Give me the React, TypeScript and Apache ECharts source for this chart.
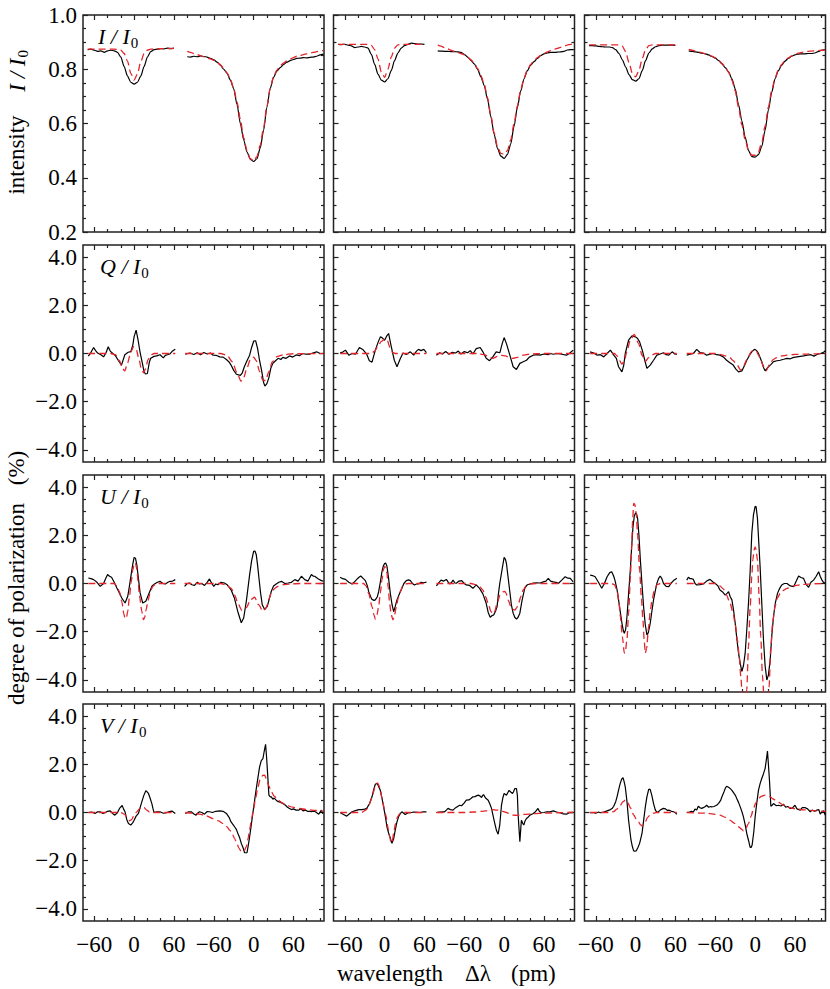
import React, { useEffect, useRef } from "react";
import * as echarts from "echarts";

// ---------- wavelength sampling (pm) for intensity profiles ----------
const WL_LEFT = [-70, -65, -60, -55, -50, -45, -40, -35, -30, -25, -20, -15, -10, -5, 0, 5, 10, 15, 20, 25, 30, 35, 40, 45, 50, 55, 60];
const WL_RIGHT = [-100, -95, -90, -85, -80, -75, -70, -65, -60, -55, -50, -45, -40, -35, -30, -25, -20, -15, -10, -5, 0, 5, 10, 15, 20, 25, 30, 35, 40, 45, 50, 55, 60, 65, 70, 75, 80, 85, 90, 95, 100, 105];

// ---------- I / I0 ----------
const I_C0_L_OBS = [0.872, 0.874, 0.870, 0.866, 0.868, 0.862, 0.868, 0.870, 0.868, 0.862, 0.845, 0.810, 0.775, 0.752, 0.745, 0.752, 0.775, 0.810, 0.845, 0.865, 0.872, 0.874, 0.876, 0.875, 0.878, 0.876, 0.878];
const I_C0_L_FIT = [0.874, 0.874, 0.874, 0.874, 0.874, 0.874, 0.874, 0.874, 0.874, 0.873, 0.870, 0.858, 0.830, 0.785, 0.760, 0.782, 0.828, 0.858, 0.870, 0.874, 0.875, 0.875, 0.876, 0.876, 0.876, 0.877, 0.877];
const I_C0_R_OBS = [0.846, 0.845, 0.848, 0.846, 0.849, 0.847, 0.845, 0.840, 0.835, 0.826, 0.815, 0.800, 0.785, 0.760, 0.728, 0.670, 0.600, 0.540, 0.495, 0.468, 0.460, 0.470, 0.510, 0.575, 0.660, 0.730, 0.770, 0.793, 0.806, 0.817, 0.826, 0.832, 0.836, 0.840, 0.841, 0.843, 0.842, 0.844, 0.845, 0.848, 0.853, 0.856];
const I_C0_R_FIT = [0.866, 0.862, 0.858, 0.854, 0.850, 0.846, 0.842, 0.838, 0.833, 0.826, 0.816, 0.803, 0.787, 0.763, 0.730, 0.680, 0.615, 0.548, 0.500, 0.470, 0.462, 0.478, 0.520, 0.585, 0.665, 0.730, 0.772, 0.797, 0.812, 0.823, 0.831, 0.838, 0.843, 0.848, 0.851, 0.854, 0.857, 0.860, 0.862, 0.865, 0.868, 0.870];

const I_C1_L_OBS = [0.892, 0.891, 0.892, 0.889, 0.886, 0.880, 0.882, 0.884, 0.882, 0.878, 0.855, 0.818, 0.782, 0.760, 0.753, 0.765, 0.795, 0.832, 0.860, 0.878, 0.887, 0.892, 0.896, 0.895, 0.893, 0.893, 0.892];
const I_C1_L_FIT = [0.892, 0.892, 0.892, 0.892, 0.892, 0.892, 0.892, 0.892, 0.892, 0.891, 0.888, 0.872, 0.838, 0.790, 0.770, 0.800, 0.845, 0.878, 0.890, 0.892, 0.892, 0.892, 0.892, 0.892, 0.892, 0.892, 0.892];
const I_C1_R_OBS = [0.868, 0.867, 0.866, 0.866, 0.865, 0.865, 0.864, 0.862, 0.855, 0.845, 0.833, 0.820, 0.800, 0.772, 0.740, 0.690, 0.625, 0.560, 0.508, 0.480, 0.471, 0.486, 0.525, 0.590, 0.660, 0.720, 0.765, 0.795, 0.815, 0.828, 0.840, 0.850, 0.857, 0.860, 0.862, 0.862, 0.863, 0.864, 0.866, 0.871, 0.872, 0.872];
const I_C1_R_FIT = [0.889, 0.885, 0.880, 0.875, 0.870, 0.866, 0.862, 0.858, 0.853, 0.845, 0.835, 0.822, 0.803, 0.777, 0.745, 0.695, 0.630, 0.565, 0.515, 0.490, 0.487, 0.500, 0.540, 0.600, 0.665, 0.725, 0.768, 0.797, 0.818, 0.832, 0.843, 0.851, 0.858, 0.864, 0.869, 0.873, 0.877, 0.881, 0.885, 0.889, 0.892, 0.895];

const I_C2_L_OBS = [0.887, 0.887, 0.886, 0.884, 0.883, 0.882, 0.882, 0.880, 0.872, 0.858, 0.835, 0.808, 0.780, 0.762, 0.756, 0.765, 0.795, 0.832, 0.860, 0.875, 0.883, 0.887, 0.889, 0.889, 0.889, 0.889, 0.888];
const I_C2_L_FIT = [0.890, 0.890, 0.890, 0.890, 0.890, 0.890, 0.890, 0.890, 0.890, 0.890, 0.885, 0.865, 0.825, 0.785, 0.772, 0.795, 0.840, 0.872, 0.887, 0.890, 0.890, 0.890, 0.890, 0.890, 0.890, 0.890, 0.890];
const I_C2_R_OBS = [0.868, 0.866, 0.864, 0.862, 0.859, 0.857, 0.853, 0.847, 0.841, 0.832, 0.820, 0.806, 0.790, 0.765, 0.728, 0.670, 0.610, 0.550, 0.500, 0.478, 0.476, 0.485, 0.515, 0.575, 0.650, 0.715, 0.765, 0.795, 0.815, 0.830, 0.840, 0.848, 0.853, 0.856, 0.857, 0.857, 0.858, 0.858, 0.860, 0.865, 0.870, 0.873];
const I_C2_R_FIT = [0.873, 0.870, 0.867, 0.864, 0.861, 0.857, 0.853, 0.848, 0.842, 0.833, 0.822, 0.808, 0.788, 0.760, 0.720, 0.660, 0.595, 0.540, 0.500, 0.483, 0.483, 0.495, 0.530, 0.590, 0.660, 0.722, 0.768, 0.798, 0.818, 0.832, 0.842, 0.849, 0.855, 0.859, 0.862, 0.864, 0.866, 0.867, 0.868, 0.869, 0.870, 0.871];

// ---------- Q / I0 (%), [Δλ pm, value] ----------
const Q_C0_L_OBS = [[-69, -0.11], [-65, 0.05], [-61, 0.25], [-58, 0.12], [-55, 0.02], [-50, -0.05], [-46, -0.14], [-42, 0.05], [-39, 0.28], [-36, 0.1], [-32, 0.0], [-28, -0.1], [-24, -0.28], [-19, -0.48], [-14, -0.05], [-9, 0.05], [-5, 0.08], [-2, 0.35], [0, 0.7], [3, 0.97], [6, 0.55], [9, 0.05], [12, -0.35], [15, -0.75], [17, -0.85], [20, -0.83], [23, -0.35], [25, -0.2], [30, -0.12], [34, -0.1], [39, -0.05], [44, -0.18], [47, -0.08], [50, -0.05], [54, -0.02], [57, 0.08], [59, 0.12], [62, 0.18]];
const Q_C0_L_FIT = [[-69, 0], [-35, 0], [-28, -0.05], [-22, -0.3], [-17, -0.65], [-14, -0.72], [-10, -0.4], [-5, 0.05], [-1, 0.28], [3, 0.2], [7, -0.2], [11, -0.65], [14, -0.8], [17, -0.65], [21, -0.25], [26, -0.05], [30, 0], [62, 0]];
const Q_C0_R_OBS = [[-103, -0.03], [-96, 0.02], [-90, -0.04], [-85, 0.03], [-80, -0.05], [-75, 0.04], [-70, -0.02], [-65, 0.02], [-61, -0.07], [-56, -0.08], [-51, -0.14], [-46, -0.15], [-41, -0.25], [-37, -0.35], [-34, -0.48], [-30, -0.7], [-26, -0.86], [-20, -0.91], [-17, -0.8], [-14, -0.55], [-10, -0.3], [-6, -0.07], [-3, 0.25], [0, 0.51], [3, 0.53], [6, 0.2], [9, -0.3], [12, -0.7], [15, -1.2], [17, -1.35], [20, -1.25], [23, -1.0], [26, -0.6], [29, -0.41], [33, -0.3], [37, -0.2], [41, -0.25], [44, -0.16], [49, -0.2], [54, -0.1], [59, -0.15], [64, -0.06], [69, -0.09], [74, 0.0], [79, -0.03], [84, -0.03], [89, 0.02], [95, 0.07], [100, 0.0], [104, 0.0]];
const Q_C0_R_FIT = [[-103, 0], [-50, 0], [-40, -0.08], [-32, -0.35], [-25, -0.8], [-19, -1.15], [-15, -1.0], [-10, -0.6], [-5, -0.25], [0, -0.15], [4, -0.3], [9, -0.75], [14, -1.12], [18, -1.12], [23, -0.75], [28, -0.35], [35, -0.13], [45, -0.05], [60, -0.01], [105, 0]];

const Q_C1_L_OBS = [[-67, 0.03], [-63, 0.06], [-59, 0.14], [-54, -0.07], [-49, 0.0], [-44, -0.03], [-38, 0.25], [-33, 0.17], [-27, -0.03], [-23, -0.3], [-19, -0.36], [-14, 0.14], [-10, 0.45], [-6.5, 0.69], [-4, 0.66], [0, 0.55], [3, 0.72], [6, 0.83], [9.6, 0.34], [14.6, -0.28], [18.6, -0.55], [23.7, -0.21], [27.7, 0.02], [32.7, -0.04], [38.8, 0.07], [43.8, -0.07], [48, 0.1], [51, 0.17], [55, 0.12], [59, 0.17], [63, 0.04]];
const Q_C1_L_FIT = [[-67, 0], [-20, 0], [-15, 0.1], [-10, 0.3], [-5, 0.5], [0, 0.6], [4, 0.55], [8, 0.25], [12, 0.05], [16, 0], [63, 0]];
const Q_C1_R_OBS = [[-102, -0.07], [-97, 0.03], [-93, -0.02], [-88, 0.08], [-83, -0.03], [-78, 0.05], [-73, 0.02], [-69, 0.1], [-65, -0.02], [-60, 0.08], [-55, 0.03], [-51, 0.12], [-47, -0.02], [-42, 0.2], [-36, 0.25], [-32, 0.07], [-27, -0.2], [-22, -0.3], [-17, -0.14], [-12, 0.07], [-6.5, 0.03], [-3, 0.4], [0, 0.66], [3.5, 0.41], [8.6, -0.07], [13.6, -0.55], [18.6, -0.66], [23.7, -0.41], [28, -0.35], [33.7, -0.28], [38, -0.15], [43.8, -0.07], [50, -0.05], [54, -0.07], [60, -0.02], [66, -0.05], [70, 0.0], [74, -0.03], [80, 0.0], [85, -0.02], [90, -0.05], [94, -0.07], [99, 0.02], [104, 0.14]];
const Q_C1_R_FIT = [[-102, 0], [-40, 0], [-30, -0.05], [-22, -0.15], [-17, -0.2], [-10, -0.12], [-4, -0.08], [2, -0.1], [8, -0.17], [13, -0.2], [20, -0.16], [28, -0.07], [40, -0.02], [60, 0], [105, 0]];

const Q_C2_L_OBS = [[-68.5, 0.07], [-63, 0.02], [-58, -0.07], [-53, -0.05], [-48, -0.14], [-43, 0.0], [-38, 0.14], [-33, -0.07], [-29, -0.2], [-25.7, -0.55], [-20.6, -0.76], [-18, -0.5], [-15.6, 0.0], [-10.6, 0.55], [-5.5, 0.73], [0, 0.69], [3, 0.62], [6, 0.48], [10, 0.14], [14, -0.3], [17, -0.62], [22, -0.48], [27, -0.28], [32, -0.07], [37, -0.02], [42, 0.03], [46, -0.05], [50, -0.07], [55, 0.07], [59, -0.02], [62, -0.04]];
const Q_C2_L_FIT = [[-68.5, 0], [-32, 0], [-28, -0.1], [-24, -0.3], [-20.6, -0.44], [-17, -0.3], [-13, 0.1], [-8, 0.55], [-2, 0.79], [4.5, 0.41], [9.6, -0.07], [14.6, -0.34], [19.6, -0.17], [25, -0.05], [30, 0], [62, 0]];
const Q_C2_R_OBS = [[-103, -0.07], [-98, -0.03], [-93, 0.0], [-88, 0.17], [-83, 0.04], [-78, 0.02], [-73, -0.07], [-68, -0.03], [-63, 0.0], [-58, -0.05], [-53, -0.07], [-48, -0.14], [-43, -0.28], [-38, -0.38], [-33, -0.48], [-29, -0.65], [-25, -0.76], [-20, -0.72], [-16, -0.5], [-12.6, -0.28], [-8, -0.05], [-5, 0.07], [-2, 0.15], [0, 0.17], [3, 0.1], [5, 0.0], [10, -0.34], [13, -0.6], [15, -0.72], [18, -0.62], [20, -0.55], [24, -0.45], [27.7, -0.34], [33, -0.3], [37.8, -0.28], [43, -0.24], [48, -0.2], [53, -0.22], [58, -0.16], [63, -0.14], [68, -0.12], [73, -0.1], [78.5, -0.07], [84, -0.05], [88.6, -0.11], [94, -0.03], [98.7, 0.0], [103, 0.05], [106, 0.11]];
const Q_C2_R_FIT = [[-103, 0], [-60, 0], [-53, -0.04], [-45, -0.1], [-38, -0.17], [-33, -0.3], [-28, -0.44], [-21.6, -0.69], [-17, -0.5], [-12.6, -0.25], [-5, 0.1], [-1, 0.15], [2, 0.1], [5, -0.07], [9, -0.3], [12.6, -0.55], [16.6, -0.72], [22.7, -0.41], [27, -0.25], [32.7, -0.17], [40, -0.1], [48, -0.07], [60, -0.04], [80, -0.02], [106, 0]];

// ---------- U / I0 (%) ----------
const U_C0_L_OBS = [[-69, 0.23], [-65, 0.2], [-61, 0.16], [-56, 0.05], [-51, -0.12], [-46, 0.0], [-43, 0.2], [-40, 0.37], [-37, 0.3], [-34, 0.26], [-30, 0.05], [-26, -0.19], [-22, -0.4], [-18.6, -0.6], [-13.6, -0.81], [-9.6, -0.53], [-7, -0.1], [-4.5, 0.37], [-2, 0.8], [0, 1.08], [2, 1.05], [4, 0.78], [6.5, 0.2], [9, -0.39], [13, -0.81], [17.6, -0.74], [22.7, -0.39], [27, -0.1], [30.7, -0.02], [35, 0.05], [39, 0.09], [43, 0.0], [47, -0.02], [51, 0.05], [54, 0.09], [58, 0.1], [62, 0.16]];
const U_C0_L_FIT = [[-69, 0], [-30, 0], [-26, -0.1], [-22, -0.35], [-18.6, -0.74], [-15.5, -1.25], [-13.6, -1.45], [-11.5, -1.4], [-9.6, -1.15], [-7, -0.55], [-4.5, 0.05], [-2, 0.55], [0, 0.82], [2, 0.85], [4, 0.6], [6, 0.1], [8, -0.5], [11.6, -1.15], [14, -1.5], [16, -1.4], [18, -1.1], [21, -0.7], [24, -0.39], [28, -0.12], [32, -0.03], [36, 0], [62, 0]];
const U_C0_R_OBS = [[-104, -0.12], [-100, 0.0], [-96.6, 0.02], [-93, -0.05], [-89, -0.08], [-85, 0.05], [-81.6, -0.02], [-78, 0.0], [-74, -0.08], [-70, 0.05], [-66.5, 0.19], [-63, 0.0], [-60, -0.12], [-57, -0.02], [-54, -0.05], [-49, 0.05], [-44, 0.02], [-40, -0.05], [-34, -0.26], [-29, -0.6], [-24, -1.15], [-18.6, -1.63], [-15, -1.43], [-11, -0.74], [-6, 0.37], [-3, 0.95], [0, 1.33], [2, 1.35], [4, 1.19], [6, 0.75], [8, 0.23], [10.5, -0.4], [13, -0.88], [16.6, -1.08], [20.6, -0.95], [23, -0.7], [26.7, -0.32], [30, -0.1], [34, -0.02], [38, 0.05], [42, 0.09], [47, 0.0], [52, 0.02], [57, 0.05], [62, 0.16], [67, 0.1], [72, 0.3], [77, 0.16], [82, 0.1], [87, 0.37], [90, 0.3], [92, 0.3], [97, 0.2], [102, 0.12], [105, 0.1]];
const U_C0_R_FIT = [[-104, 0], [-50, 0], [-42, -0.05], [-34, -0.19], [-28, -0.5], [-24, -0.81], [-17.6, -1.12], [-11, -1.0], [-4.5, -0.67], [1.5, -0.57], [7.5, -0.88], [14, -1.15], [19, -1.0], [23, -0.65], [26.7, -0.39], [32, -0.2], [36.7, -0.12], [45, -0.05], [55, -0.02], [70, 0], [105, 0]];

const U_C1_L_OBS = [[-67, 0.26], [-63, 0.2], [-59, 0.17], [-54, 0.05], [-49, -0.02], [-46, 0.05], [-42, 0.17], [-39, 0.25], [-36, 0.31], [-32, 0.2], [-29, 0.12], [-26, -0.1], [-24, -0.34], [-21, -0.55], [-19, -0.66], [-16, -0.7], [-14, -0.68], [-11, -0.55], [-9, -0.34], [-6.5, 0.05], [-4, 0.49], [-2, 0.72], [0, 0.83], [1.5, 0.85], [3.5, 0.72], [6, 0.2], [8.6, -0.41], [11, -0.85], [13.6, -1.17], [16, -0.95], [18.6, -0.68], [22, -0.45], [26, -0.2], [29, 0.0], [32.7, 0.12], [36, 0.15], [38.8, 0.12], [42, 0.0], [44.8, -0.06], [48, -0.02], [51, -0.02], [55, 0.05], [59, 0.03], [63, 0.06]];
const U_C1_L_FIT = [[-67, 0], [-32, 0], [-28, -0.1], [-24, -0.41], [-19, -0.96], [-16, -1.3], [-14, -1.48], [-11.5, -1.3], [-9, -0.96], [-6.5, -0.4], [-4, 0.14], [-2, 0.55], [0, 0.7], [1.5, 0.68], [3.5, 0.42], [5.5, -0.2], [7.5, -0.82], [10, -1.3], [12.6, -1.51], [15, -1.3], [17.6, -0.96], [20.5, -0.6], [23.7, -0.34], [27, -0.12], [31, -0.02], [36, 0], [63, 0]];
const U_C1_R_OBS = [[-102, -0.1], [-98, 0.05], [-95, 0.14], [-91, 0.1], [-87, 0.17], [-84, 0.05], [-82, -0.02], [-79, 0.05], [-77, 0.14], [-74, 0.02], [-72, 0.01], [-68, 0.1], [-64, 0.12], [-60, 0.0], [-57, -0.06], [-52, -0.08], [-47, -0.2], [-42, -0.06], [-37, -0.2], [-32, -0.43], [-27, -0.82], [-24, -1.2], [-21, -1.4], [-18, -1.33], [-15.6, -1.3], [-13, -1.15], [-10.6, -0.96], [-8.5, -0.4], [-6.5, 0.01], [-3, 0.6], [0, 1.08], [2, 1.0], [3.5, 0.83], [6, 0.25], [8.6, -0.34], [11, -0.9], [13.6, -1.23], [16, -1.4], [18.6, -1.48], [21, -1.4], [23.7, -1.23], [27, -0.7], [31, -0.2], [35, -0.05], [38.8, -0.02], [44, 0.02], [49, 0.03], [54, 0.02], [59, 0.07], [63, 0.1], [66.5, 0.21], [70, 0.1], [74, 0.07], [78, 0.05], [82, 0.01], [86, 0.12], [89, 0.2], [92, 0.28], [96, 0.22], [99.7, 0.21], [104, 0.07]];
const U_C1_R_FIT = [[-102, 0], [-50, 0], [-42, -0.05], [-36, -0.15], [-32, -0.27], [-28, -0.55], [-24, -0.82], [-20, -1.15], [-17.6, -1.26], [-14, -1.15], [-10.6, -0.82], [-6, -0.48], [-2, -0.35], [1, -0.33], [3, -0.4], [6, -0.68], [10, -0.95], [14, -1.08], [16, -1.1], [19, -1.0], [22, -0.8], [25, -0.55], [28.7, -0.27], [33, -0.1], [38.8, -0.02], [48, 0], [105, 0]];

const U_C2_L_OBS = [[-68.5, 0.35], [-65, 0.33], [-61, 0.28], [-56, 0.05], [-51, -0.2], [-47, 0.0], [-43, 0.28], [-39, 0.45], [-36, 0.49], [-33, 0.3], [-31, 0.12], [-28, -0.25], [-25.7, -0.68], [-23, -1.2], [-20.6, -1.65], [-18.5, -1.95], [-17, -2.07], [-15, -1.9], [-13, -1.37], [-10.5, -0.4], [-8, 0.56], [-6, 1.5], [-4, 2.35], [-2, 2.8], [0, 2.93], [1.5, 2.88], [3, 2.7], [5, 2.0], [7, 1.04], [9.5, 0.0], [12, -0.96], [14.5, -1.7], [17, -2.13], [19, -2.05], [22, -1.65], [24.5, -1.15], [27, -0.68], [30, -0.25], [32, 0.0], [34.5, 0.2], [37, 0.31], [39.5, 0.2], [42, 0.0], [46, -0.12], [50, -0.13], [53, 0.0], [57, 0.12], [60, 0.18], [62, 0.22]];
const U_C2_L_FIT = [[-68.5, 0], [-36, 0], [-32, -0.05], [-28, -0.27], [-25, -0.8], [-23, -1.37], [-20, -2.2], [-17, -2.89], [-15.5, -2.85], [-13, -2.3], [-10.5, -1.2], [-8, 0.2], [-6, 1.5], [-4.5, 2.6], [-3, 3.32], [-1.5, 3.3], [1, 2.9], [3, 2.0], [6, 0.56], [8.5, -0.5], [11, -1.51], [13, -2.4], [14.6, -2.89], [16.5, -2.7], [19.6, -1.79], [22, -1.15], [24.7, -0.68], [28, -0.3], [32, -0.06], [37, 0], [62, 0]];
const U_C2_R_OBS = [[-103, 0.14], [-100.5, 0.26], [-98, 0.2], [-95.5, 0.2], [-93, 0.17], [-90.5, 0.0], [-88, -0.06], [-83, -0.05], [-78, -0.02], [-73, 0.1], [-68, 0.17], [-63, 0.05], [-60, 0.0], [-56, -0.1], [-53, -0.27], [-49, -0.35], [-45, -0.48], [-42, -0.4], [-40, -0.34], [-37.5, -0.55], [-35, -0.68], [-32.5, -1.1], [-30, -1.65], [-27.5, -2.3], [-25, -2.89], [-22.5, -3.3], [-20, -3.65], [-17.5, -3.4], [-15, -2.89], [-12.5, -1.9], [-10, -0.82], [-7.5, 0.5], [-5, 2.08], [-2.5, 2.85], [0, 3.2], [1.5, 3.18], [3.5, 2.7], [5.5, 1.7], [7.5, 0.69], [10, -0.8], [12.6, -2.34], [15, -3.4], [17.6, -4.0], [20, -3.8], [22.7, -3.17], [25, -2.2], [27.7, -1.37], [30.5, -0.8], [33.7, -0.41], [37, -0.2], [40, -0.06], [44, 0.0], [48, 0.0], [53, -0.1], [58, -0.13], [62, 0.1], [65.5, 0.31], [69, 0.25], [73, 0.21], [77, -0.05], [80.6, -0.16], [84, 0.05], [88, 0.14], [92, 0.3], [95.7, 0.49], [98, 0.3], [100.7, 0.14], [103, 0.05], [105.7, 0.0]];
const U_C2_R_FIT = [[-103, 0], [-60, 0], [-53, -0.1], [-48, -0.22], [-43, -0.48], [-38, -0.8], [-33, -1.23], [-30, -1.7], [-26.7, -2.34], [-24, -3.0], [-21.6, -3.85], [-19, -4.8], [-17, -5.4], [-15, -5.3], [-12.6, -4.4], [-10, -2.6], [-7.5, -1.0], [-5, 0.3], [-3.5, 0.97], [-1.5, 1.4], [0, 1.52], [1.5, 1.4], [3.5, 0.97], [6, -0.5], [8.5, -2.2], [11, -3.8], [13.6, -4.88], [16, -5.4], [18.6, -5.2], [21, -4.3], [23.7, -2.6], [26.5, -1.6], [30, -0.96], [33.5, -0.6], [37.8, -0.41], [43, -0.28], [48, -0.2], [58, -0.1], [72, -0.04], [90, -0.01], [106, 0]];

// ---------- V / I0 (%) ----------
const V_C0_L_OBS = [[-69, 0.0], [-64, 0.02], [-59, -0.04], [-55, 0.03], [-51, 0.03], [-47, -0.04], [-44, -0.01], [-40, 0.05], [-36, 0.07], [-32, -0.05], [-29, -0.11], [-25, 0.0], [-22, 0.17], [-18, 0.29], [-16, 0.15], [-13.6, 0.02], [-11, -0.3], [-8.6, -0.46], [-5, -0.52], [-2, -0.42], [0, -0.32], [3, -0.15], [6.5, -0.04], [9, 0.2], [11.6, 0.44], [14.5, 0.7], [17.6, 0.9], [19.5, 0.86], [21.6, 0.79], [24, 0.6], [26.7, 0.37], [28.5, 0.15], [30, 0.0], [34, 0.03], [39, 0.03], [44, -0.03], [49, -0.01], [53, 0.04], [57, 0.06], [60, 0.0], [62, -0.04]];
const V_C0_L_FIT = [[-69, 0], [-20, 0], [-14, -0.08], [-10, -0.25], [-7, -0.34], [-4, -0.3], [0, -0.12], [4, 0.03], [8, 0.15], [11.6, 0.23], [15, 0.2], [19, 0.1], [23, 0.02], [28, 0], [62, 0]];
const V_C0_R_OBS = [[-103, -0.04], [-98, 0.03], [-94, 0.03], [-90, -0.06], [-86.6, -0.11], [-84, -0.02], [-81.6, 0.03], [-78, 0.0], [-74, -0.07], [-70, 0.04], [-66.5, 0.03], [-62, 0.0], [-57, 0.05], [-51, 0.07], [-46, 0.05], [-41, -0.04], [-37, -0.2], [-34, -0.39], [-31, -0.5], [-28.7, -0.59], [-26, -0.7], [-23.7, -0.87], [-21, -1.05], [-18.6, -1.28], [-16, -1.45], [-13.6, -1.67], [-10, -1.67], [-8, -1.35], [-6, -1.0], [-3.5, -0.5], [-1, 0.0], [1.5, 0.5], [4, 0.99], [6.5, 1.45], [9, 1.89], [11.5, 2.15], [14, 2.23], [16, 2.55], [18, 2.83], [19.5, 2.3], [20.6, 1.82], [23, 0.72], [25, 0.65], [26.7, 0.65], [29, 0.55], [31, 0.6], [34, 0.51], [37, 0.45], [40, 0.43], [44, 0.37], [48, 0.3], [51, 0.22], [54, 0.17], [57, 0.12], [60, 0.15], [64, 0.1], [68, 0.1], [71, 0.15], [74.5, 0.07], [78, 0.1], [81, 0.05], [84.6, 0.05], [88, 0.04], [91, 0.06], [94.7, 0.0], [98, -0.07], [100, 0.0], [102, 0.1], [104, -0.05]];
const V_C0_R_FIT = [[-103, 0], [-90, -0.03], [-81.6, -0.07], [-72, -0.13], [-61, -0.25], [-53, -0.35], [-46, -0.46], [-40, -0.6], [-36, -0.73], [-32, -0.9], [-28.7, -1.08], [-25, -1.3], [-22, -1.49], [-19, -1.6], [-17, -1.63], [-14, -1.58], [-11, -1.42], [-8.5, -1.1], [-6, -0.7], [-3, -0.25], [0, 0.17], [3, 0.6], [6.5, 1.06], [10, 1.4], [14, 1.54], [16.5, 1.55], [19, 1.41], [23, 1.1], [26.7, 0.86], [31, 0.68], [37, 0.51], [43, 0.4], [49, 0.3], [59, 0.22], [69, 0.17], [80, 0.12], [90, 0.09], [105, 0.06]];

const V_C1_L_OBS = [[-67, 0.0], [-62, -0.08], [-57, -0.15], [-53, -0.05], [-49, 0.03], [-44, 0.08], [-39, 0.12], [-34, 0.12], [-30, 0.14], [-27, 0.17], [-23, 0.35], [-19, 0.65], [-16.5, 0.95], [-14, 1.17], [-12, 1.2], [-10.6, 1.17], [-8.5, 1.05], [-6.5, 0.92], [-4, 0.6], [-1.5, 0.23], [1, -0.15], [3.5, -0.59], [6, -0.85], [8.6, -1.07], [11, -1.28], [13.5, -1.1], [16, -0.73], [18.5, -0.4], [21, -0.18], [23.5, -0.05], [26, 0.03], [31, -0.08], [35, -0.02], [38.8, -0.01], [44, 0.02], [49, 0.01], [54, 0.0], [58, 0.03], [63, 0.03]];
const V_C1_L_FIT = [[-67, 0], [-35, 0], [-28, 0.1], [-24, 0.25], [-21.6, 0.44], [-18, 0.75], [-14, 1.09], [-12, 1.2], [-10.6, 1.23], [-8.5, 1.12], [-6.5, 0.92], [-3, 0.45], [1, -0.04], [6, -0.73], [8, -1.05], [9.6, -1.26], [11.5, -1.2], [13.6, -0.86], [16.5, -0.45], [19.6, -0.17], [23, -0.05], [26, -0.01], [30, 0], [63, 0]];
const V_C1_R_OBS = [[-102, 0.0], [-97, 0.02], [-92, 0.03], [-89.6, 0.03], [-87, 0.1], [-84.6, 0.17], [-81, 0.12], [-77, 0.1], [-73, 0.2], [-70, 0.25], [-67, 0.3], [-64, 0.28], [-60, 0.4], [-57, 0.51], [-53, 0.52], [-50, 0.58], [-47, 0.65], [-44, 0.66], [-41, 0.7], [-39, 0.72], [-36, 0.68], [-34, 0.62], [-32.5, 0.7], [-31, 0.74], [-28, 0.6], [-24, 0.51], [-21.5, 0.35], [-19, 0.17], [-16.5, -0.15], [-14, -0.46], [-11.5, -0.75], [-9, -0.9], [-6.5, -0.5], [-4, 0.3], [-2, 0.6], [0, 0.79], [2, 0.75], [3.5, 0.72], [5.5, 0.82], [7.5, 0.92], [10, 0.85], [12.6, 0.79], [14, 0.85], [16, 0.99], [18.6, 0.99], [20, 0.7], [21, -0.04], [22.5, -0.7], [23.7, -1.21], [25, -0.7], [26, -0.32], [28, -0.45], [29.7, -0.52], [31.5, -0.35], [33.7, -0.25], [36, -0.2], [38.8, -0.11], [41, -0.08], [44, -0.04], [47, 0.03], [49, 0.1], [51, 0.17], [53, 0.05], [56, -0.01], [60, 0.0], [64, 0.03], [69, 0.03], [74, 0.07], [79, 0.02], [84, -0.01], [89, -0.06], [94, -0.07], [99, 0.0], [104, -0.01]];
const V_C1_R_FIT = [[-102, 0], [-60, 0], [-45, 0.02], [-35, 0.05], [-26.7, 0.07], [-20, 0.1], [-16.6, 0.12], [-12, 0.1], [-6.5, 0.09], [-2, 0.05], [3.5, 0.0], [9, -0.06], [13.6, -0.11], [20, -0.12], [23.7, -0.11], [30, -0.08], [44, -0.05], [60, -0.03], [80, -0.01], [104, 0.01]];

const V_C2_L_OBS = [[-68.5, -0.01], [-64, 0.0], [-60, -0.03], [-56, 0.02], [-53, -0.01], [-48, 0.02], [-43, 0.07], [-38, 0.12], [-35, 0.18], [-33, 0.26], [-30, 0.45], [-28, 0.65], [-25.5, 0.95], [-23, 1.23], [-21, 1.38], [-19, 1.45], [-17.5, 1.3], [-15.6, 1.06], [-13, 0.45], [-10.6, -0.32], [-8.5, -0.8], [-7, -1.14], [-5, -1.4], [-3, -1.59], [-1, -1.6], [1, -1.59], [3.5, -1.45], [6, -1.28], [8, -1.05], [9.6, -0.87], [12, -0.35], [14.6, 0.23], [17, 0.65], [19.6, 0.95], [21, 0.97], [22, 0.95], [24.5, 0.7], [27, 0.37], [29.5, 0.12], [32, 0.0], [35, 0.05], [38, 0.12], [42, 0.17], [45, 0.15], [48, 0.08], [50, 0.1], [54, 0.05], [57, 0.03], [60, -0.01], [62, -0.08]];
const V_C2_L_FIT = [[-68.5, 0], [-40, 0], [-33, 0.04], [-28, 0.15], [-23, 0.3], [-19, 0.45], [-15.6, 0.51], [-12, 0.42], [-8, 0.2], [-3, -0.1], [1, -0.27], [4.5, -0.39], [7, -0.5], [9.6, -0.55], [12, -0.5], [14.6, -0.39], [18, -0.2], [22, -0.1], [27, -0.03], [32, 0], [62, 0]];
const V_C2_R_OBS = [[-103, 0.0], [-99, 0.02], [-95.7, 0.05], [-93, 0.02], [-90.6, 0.14], [-88, 0.1], [-85.6, 0.26], [-83, 0.2], [-80.6, 0.17], [-78, 0.2], [-75, 0.25], [-73, 0.3], [-70, 0.22], [-67, 0.25], [-65.5, 0.23], [-62, 0.25], [-58, 0.3], [-55, 0.38], [-52, 0.5], [-50, 0.65], [-47, 0.85], [-45, 1.0], [-43, 1.09], [-40, 1.05], [-37, 0.98], [-35, 0.92], [-32, 0.8], [-29.5, 0.7], [-27.7, 0.58], [-25, 0.42], [-21.6, 0.17], [-19.5, 0.0], [-17.6, -0.18], [-15, -0.5], [-12.6, -0.87], [-10, -1.15], [-7.5, -1.45], [-6, -1.45], [-4.5, -1.35], [-2, -0.8], [0, -0.18], [2.5, 0.4], [5, 0.92], [7.5, 1.2], [10, 1.41], [12.5, 1.6], [15, 1.82], [17, 2.2], [18.6, 2.55], [20, 2.0], [21.6, 1.34], [23.7, 0.26], [25.5, 0.3], [27.7, 0.37], [30, 0.32], [32, 0.28], [35, 0.3], [39, 0.27], [42.8, 0.34], [46, 0.22], [49, 0.25], [52.9, 0.17], [56, 0.18], [60, 0.3], [63, 0.15], [68, 0.1], [71, 0.2], [75.5, 0.2], [79, 0.15], [83, 0.03], [86, 0.1], [90, 0.05], [93, 0.1], [96, 0.12], [98, -0.07], [100, 0.0], [103, 0.07], [105.5, -0.11]];
const V_C2_R_FIT = [[-103, 0], [-85, -0.02], [-73, -0.03], [-63, -0.07], [-53, -0.11], [-45, -0.2], [-38, -0.32], [-31, -0.45], [-25, -0.59], [-20, -0.7], [-17.6, -0.76], [-14, -0.65], [-10, -0.46], [-6, -0.15], [-2.5, 0.17], [1, 0.4], [5, 0.58], [10, 0.68], [15, 0.72], [19, 0.7], [22.7, 0.65], [27, 0.56], [32.7, 0.48], [40, 0.35], [48, 0.23], [60, 0.16], [73, 0.11], [90, 0.07], [106, 0.05]];

// ---------- axes / ticks ----------
const X_MAJOR = [-60, 0, 60, 120, 180, 240];
const X_MINOR = [-40, -20, 20, 40, 80, 100, 140, 160, 200, 220, 260, 280];
const X_TICK_LABELS = ["\u221260", "0", "60", "\u221260", "0", "60"];
const I_MAJOR = [0.2, 0.4, 0.6, 0.8, 1.0];
const I_MINOR = [0.25, 0.3, 0.35, 0.45, 0.5, 0.55, 0.65, 0.7, 0.75, 0.85, 0.9, 0.95];
const P_MAJOR = [-4, -2, 0, 2, 4];
const P_MINOR = [-3.5, -3, -2.5, -1.5, -1, -0.5, 0.5, 1, 1.5, 2.5, 3, 3.5];
const ROW_LABELS = ["I", "Q", "U", "V"];

// ---------- layout ----------
const RIGHT_OFFSET = 180;
const X_MIN = -77;
const X_MAX = 286;
const COL_LEFT = [83, 333.5, 584.5];
const ROW_TOP = [15, 245, 475, 704];
const PANEL_W = 241;
const PANEL_H = 217;
const SERIF = "Liberation Serif, DejaVu Serif, serif";
const RED = "#e3242b";
const FRAME = "#222";

const zipXY = (xs: number[], ys: number[], off: number) => xs.map((x, i) => [x + off, ys[i]]);
const shift = (pairs: number[][], off: number) => pairs.map(([x, y]) => [x + off, y]);

const PANELS = [
  [
    [zipXY(WL_LEFT, I_C0_L_OBS, 0), zipXY(WL_LEFT, I_C0_L_FIT, 0), zipXY(WL_RIGHT, I_C0_R_OBS, RIGHT_OFFSET), zipXY(WL_RIGHT, I_C0_R_FIT, RIGHT_OFFSET)],
    [zipXY(WL_LEFT, I_C1_L_OBS, 0), zipXY(WL_LEFT, I_C1_L_FIT, 0), zipXY(WL_RIGHT, I_C1_R_OBS, RIGHT_OFFSET), zipXY(WL_RIGHT, I_C1_R_FIT, RIGHT_OFFSET)],
    [zipXY(WL_LEFT, I_C2_L_OBS, 0), zipXY(WL_LEFT, I_C2_L_FIT, 0), zipXY(WL_RIGHT, I_C2_R_OBS, RIGHT_OFFSET), zipXY(WL_RIGHT, I_C2_R_FIT, RIGHT_OFFSET)],
  ],
  [
    [shift(Q_C0_L_OBS, 0), shift(Q_C0_L_FIT, 0), shift(Q_C0_R_OBS, RIGHT_OFFSET), shift(Q_C0_R_FIT, RIGHT_OFFSET)],
    [shift(Q_C1_L_OBS, 0), shift(Q_C1_L_FIT, 0), shift(Q_C1_R_OBS, RIGHT_OFFSET), shift(Q_C1_R_FIT, RIGHT_OFFSET)],
    [shift(Q_C2_L_OBS, 0), shift(Q_C2_L_FIT, 0), shift(Q_C2_R_OBS, RIGHT_OFFSET), shift(Q_C2_R_FIT, RIGHT_OFFSET)],
  ],
  [
    [shift(U_C0_L_OBS, 0), shift(U_C0_L_FIT, 0), shift(U_C0_R_OBS, RIGHT_OFFSET), shift(U_C0_R_FIT, RIGHT_OFFSET)],
    [shift(U_C1_L_OBS, 0), shift(U_C1_L_FIT, 0), shift(U_C1_R_OBS, RIGHT_OFFSET), shift(U_C1_R_FIT, RIGHT_OFFSET)],
    [shift(U_C2_L_OBS, 0), shift(U_C2_L_FIT, 0), shift(U_C2_R_OBS, RIGHT_OFFSET), shift(U_C2_R_FIT, RIGHT_OFFSET)],
  ],
  [
    [shift(V_C0_L_OBS, 0), shift(V_C0_L_FIT, 0), shift(V_C0_R_OBS, RIGHT_OFFSET), shift(V_C0_R_FIT, RIGHT_OFFSET)],
    [shift(V_C1_L_OBS, 0), shift(V_C1_L_FIT, 0), shift(V_C1_R_OBS, RIGHT_OFFSET), shift(V_C1_R_FIT, RIGHT_OFFSET)],
    [shift(V_C2_L_OBS, 0), shift(V_C2_L_FIT, 0), shift(V_C2_R_OBS, RIGHT_OFFSET), shift(V_C2_R_FIT, RIGHT_OFFSET)],
  ],
];

let measureCtx: CanvasRenderingContext2D | null = null;
function measure(text: string, font: string): number {
  if (!measureCtx) measureCtx = document.createElement("canvas").getContext("2d");
  if (!measureCtx) return text.length * 10;
  measureCtx.font = font;
  return measureCtx.measureText(text).width;
}

const fmtY = (v: number) => (v < 0 ? "\u2212" : "") + Math.abs(v).toFixed(1);
const fmtX = (v: number) => {
  const i = X_MAJOR.findIndex((m) => Math.abs(m - v) < 1e-6);
  return i >= 0 ? X_TICK_LABELS[i] : "";
};

function buildOption() {
  const grids: any[] = [];
  const xAxes: any[] = [];
  const yAxes: any[] = [];
  const series: any[] = [];
  const tickStyle = { color: FRAME, width: 1.2 };
  const labelBase = { fontFamily: SERIF, fontSize: 23, color: "#000" };

  for (let r = 0; r < 4; r++) {
    for (let c = 0; c < 3; c++) {
      const g = grids.length;
      grids.push({
        left: COL_LEFT[c], top: ROW_TOP[r], width: PANEL_W, height: PANEL_H,
        show: true, borderColor: FRAME, borderWidth: 1.5, backgroundColor: "transparent",
        containLabel: false,
      });
      const yMajor = r === 0 ? I_MAJOR : P_MAJOR;
      const yMinor = r === 0 ? I_MINOR : P_MINOR;
      const yMin = r === 0 ? 0.2 : -4.5;
      const yMax = r === 0 ? 1.0 : 4.5;
      const mkX = (position: string, major: boolean, labels: boolean) => ({
        gridIndex: g, type: "value", min: X_MIN, max: X_MAX, position,
        axisLine: { show: false, onZero: false },
        splitLine: { show: false },
        axisTick: { show: true, inside: true, length: major ? 5 : 3, customValues: major ? X_MAJOR : X_MINOR, lineStyle: tickStyle },
        axisLabel: labels
          ? { show: true, customValues: X_MAJOR, formatter: fmtX, margin: 12, ...labelBase }
          : { show: false },
      });
      const mkY = (position: string, major: boolean, labels: boolean) => ({
        gridIndex: g, type: "value", min: yMin, max: yMax, position,
        axisLine: { show: false, onZero: false },
        splitLine: { show: false },
        axisTick: { show: true, inside: true, length: major ? 5 : 3, customValues: major ? yMajor : yMinor, lineStyle: tickStyle },
        axisLabel: labels
          ? { show: true, customValues: yMajor, formatter: fmtY, margin: 6, ...labelBase }
          : { show: false },
      });
      xAxes.push(mkX("bottom", true, r === 3), mkX("bottom", false, false), mkX("top", true, false), mkX("top", false, false));
      yAxes.push(mkY("left", true, c === 0), mkY("left", false, false), mkY("right", true, false), mkY("right", false, false));

      const [obsL, fitL, obsR, fitR] = PANELS[r][c];
      const line = (data: number[][], fit: boolean) => ({
        type: "line", xAxisIndex: 4 * g, yAxisIndex: 4 * g, data,
        symbol: "none", showSymbol: false, silent: true, clip: true,
        smooth: fit || r === 0 ? 0.25 : false,
        smoothMonotone: "x",
        z: fit ? 3 : 2,
        lineStyle: fit ? { color: RED, width: 1.3, type: [7, 4] } : { color: "#000", width: 1.2 },
      });
      series.push(line(obsL, false), line(obsR, false), line(fitL, true), line(fitR, true));
    }
  }

  // ----- texts -----
  const graphic: any[] = [];
  const labelFont = `italic 22px ${SERIF}`;
  ROW_LABELS.forEach((L, r) => {
    const main = `${L} / I`;
    const x0 = r === 0 ? 98 : 100;
    const w = measure(main, labelFont);
    graphic.push({
      type: "text", x: x0, y: ROW_TOP[r] + 21, silent: true,
      style: { text: main, fontFamily: SERIF, fontSize: 22, fontStyle: "italic", fill: "#000", align: "left", verticalAlign: "middle" },
    });
    graphic.push({
      type: "text", x: x0 + w + 1, y: ROW_TOP[r] + 28, silent: true,
      style: { text: "0", fontFamily: SERIF, fontSize: 15, fill: "#000", align: "left", verticalAlign: "middle" },
    });
  });

  // y title: intensity I / I0
  const rot = Math.PI / 2;
  graphic.push({
    type: "text", x: 16, y: 155, rotation: rot, silent: true,
    style: { text: "intensity", fontFamily: SERIF, fontSize: 23, fill: "#000", align: "center", verticalAlign: "middle" },
  });
  const wII = measure("I / I", `italic 23px ${SERIF}`);
  const w0 = measure("0", `15px ${SERIF}`);
  const subTop = 50;
  graphic.push({
    type: "text", x: 17, y: subTop + w0 + 1 + wII / 2, rotation: rot, silent: true,
    style: { text: "I / I", fontFamily: SERIF, fontSize: 23, fontStyle: "italic", fill: "#000", align: "center", verticalAlign: "middle" },
  });
  graphic.push({
    type: "text", x: 23, y: subTop + w0 / 2, rotation: rot, silent: true,
    style: { text: "0", fontFamily: SERIF, fontSize: 15, fill: "#000", align: "center", verticalAlign: "middle" },
  });
  // y title: degree of polarization (%)
  graphic.push({
    type: "text", x: 16, y: 604, rotation: rot, silent: true,
    style: { text: "degree of polarization", fontFamily: SERIF, fontSize: 23, fill: "#000", align: "center", verticalAlign: "middle" },
  });
  graphic.push({
    type: "text", x: 16, y: 468, rotation: rot, silent: true,
    style: { text: "(%)", fontFamily: SERIF, fontSize: 23, fill: "#000", align: "center", verticalAlign: "middle" },
  });
  // x title
  const xt = [["wavelength", 337], ["\u0394\u03bb", 465], ["(pm)", 511]] as [string, number][];
  xt.forEach(([t, x]) => {
    graphic.push({
      type: "text", x, y: 973, silent: true,
      style: { text: t, fontFamily: SERIF, fontSize: 23, fill: "#000", align: "left", verticalAlign: "middle" },
    });
  });

  return {
    animation: false,
    backgroundColor: "#fff",
    grid: grids,
    xAxis: xAxes,
    yAxis: yAxes,
    series,
    graphic,
  };
}

export default function App() {
  const ref = useRef<HTMLDivElement>(null);
  useEffect(() => {
    document.body.style.margin = "0";
    const chart = echarts.init(ref.current as HTMLDivElement, null, { renderer: "svg" });
    chart.setOption(buildOption() as any);
    return () => chart.dispose();
  }, []);
  return <div ref={ref} style={{ width: 830, height: 989 }} />;
}
